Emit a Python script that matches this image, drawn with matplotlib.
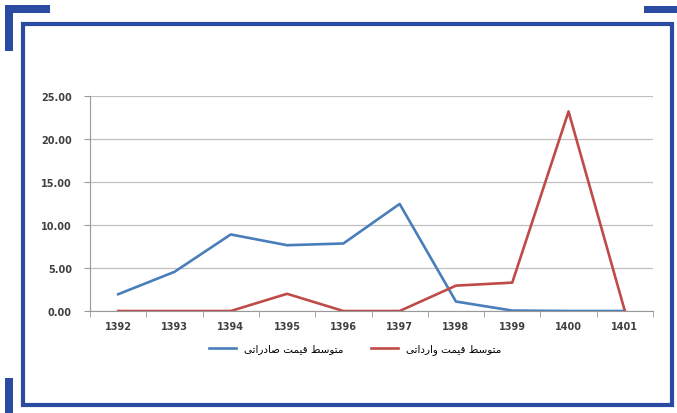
import numpy as np
import matplotlib
matplotlib.use("Agg")
import matplotlib.pyplot as plt
from matplotlib.patches import Rectangle

# data
years = ["1392", "1393", "1394", "1395", "1396", "1397", "1398", "1399", "1400", "1401"]
export_price = [1.95, 4.55, 8.9, 7.65, 7.85, 12.45, 1.1, 0.05, 0.0, 0.0]
import_price = [0.0, 0.0, 0.0, 2.0, 0.0, 0.0, 2.95, 3.3, 23.2, 0.0]
y_ticks = [0, 5, 10, 15, 20, 25]

# matplotlib does no arabic shaping, so the labels are written with
# presentation forms in visual (left to right) order
# "متوسط قیمت صادراتی"
export_label = ("\uFBFD\uFE97\uFE8D\uFEAD\uFEA9\uFE8E\uFEBB" + " "
                + "\uFE96\uFEE4\uFBFF\uFED7" + " "
                + "\uFEC2\uFEB3\uFEEE\uFE98\uFEE3")
# "متوسط قیمت وارداتی"
import_label = ("\uFBFD\uFE97\uFE8D\uFEA9\uFEAD\uFE8D\uFEED" + " "
                + "\uFE96\uFEE4\uFBFF\uFED7" + " "
                + "\uFEC2\uFEB3\uFEEE\uFE98\uFEE3")

W, H = 677, 414
frame_col = "#2b4ba3"

fig = plt.figure(figsize=(W / 100, H / 100), dpi=100)
fig.patch.set_facecolor("white")

# decorative frame, drawn in pixel coords on a full-figure overlay
deco = fig.add_axes([0, 0, 1, 1], zorder=0)
deco.set_xlim(0, W)
deco.set_ylim(H, 0)
deco.axis("off")
deco.add_patch(Rectangle((22.5, 24.5), 649, 381.5, fill=False, ec=frame_col, lw=3.0))
deco.add_patch(Rectangle((5, 6), 8, 46, color=frame_col, lw=0))
deco.add_patch(Rectangle((5, 6), 45, 8, color=frame_col, lw=0))
deco.add_patch(Rectangle((644, 7), 40, 7, color=frame_col, lw=0))
deco.add_patch(Rectangle((5, 379), 8, 40, color=frame_col, lw=0))

ax = fig.add_axes([90 / W, (H - 312) / H, (653 - 90) / W, (312 - 97) / H], zorder=1)
ax.patch.set_alpha(0)
x = np.arange(len(years))
ax.plot(x, export_price, color="#4a7ebb", lw=1.9, label=export_label)
ax.plot(x, import_price, color="#be4b48", lw=1.9, label=import_label)

ax.set_xlim(-0.5, len(years) - 0.5)
ax.set_ylim(0, 25)
ax.set_yticks(y_ticks)
ax.set_yticklabels(["%.2f" % v for v in y_ticks])
ax.set_xticks(x)
ax.set_xticklabels(years)
ax.set_xticks(np.arange(len(years) + 1) - 0.5, minor=True)
ax.tick_params(axis="x", which="major", length=0, pad=7)
ax.tick_params(axis="x", which="minor", length=4, color="#999999", direction="out")
ax.tick_params(axis="y", length=4, color="#999999", pad=9)
for lab in ax.get_xticklabels() + ax.get_yticklabels():
    lab.set_fontsize(7)
    lab.set_fontweight("bold")
    lab.set_color("#404040")

ax.grid(axis="y", color="#c0c0c0", lw=0.9)
ax.set_axisbelow(True)
for s in ["top", "right"]:
    ax.spines[s].set_visible(False)
ax.spines["left"].set_color("#999999")
ax.spines["bottom"].set_color("#999999")

leg = fig.legend(loc="center", bbox_to_anchor=(355 / W, (H - 350) / H), ncol=2,
                 frameon=False, handlelength=2.6, columnspacing=2.6,
                 handletextpad=0.8, prop={"family": "DejaVu Sans", "size": 7.5})

fig.savefig("out.png", dpi=100)
